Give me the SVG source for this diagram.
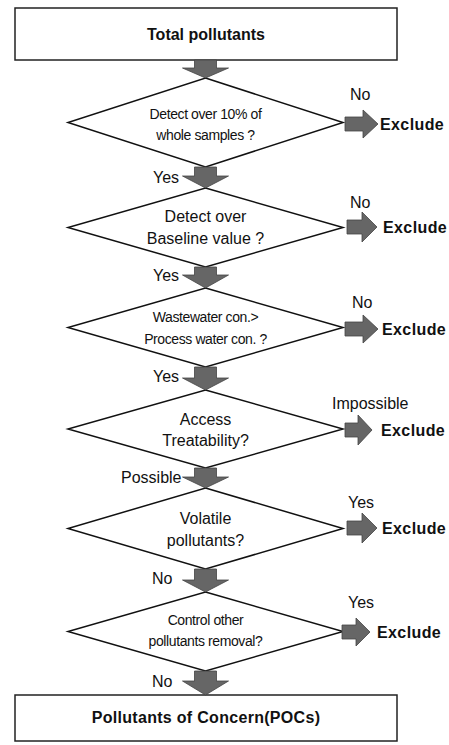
<svg xmlns="http://www.w3.org/2000/svg" width="449" height="745" viewBox="0 0 449 745">
<style>
.box{fill:#fff;stroke:#222;stroke-width:1.5}
.dia{fill:#fff;stroke:#111;stroke-width:1.5}
.arr{fill:#666;stroke:#444;stroke-width:0.8}
text{font-family:"Liberation Sans",Arial,sans-serif;fill:#111}
.t{font-size:16px;text-anchor:middle}
.c{font-size:14px;text-anchor:middle;letter-spacing:-0.4px}
.b{font-size:16px;font-weight:bold;text-anchor:middle}
.l{font-size:16px}
.x{font-size:16px;font-weight:bold;letter-spacing:0.4px}
</style>
<rect width="449" height="745" fill="#fff"/>
<g id="start"><rect class="box" x="15" y="8" width="382" height="52"/><text class="b" x="206" y="40">Total pollutants</text></g>
<g id="d1"><polygon class="dia" points="205.5,78 343,122.5 205.5,167 68,122.5"/><text class="c" x="205.5" y="119">Detect over 10% of</text><text class="c" x="205.5" y="140">whole samples ?</text></g>
<g id="d2"><polygon class="dia" points="205.5,188 343,227.5 205.5,267 68,227.5"/><text class="t" x="205.5" y="222">Detect over</text><text class="t" x="205.5" y="244">Baseline value ?</text></g>
<g id="d3"><polygon class="dia" points="205.5,288 343,327.5 205.5,367 68,327.5"/><text class="c" x="205.5" y="322">Wastewater con.&gt;</text><text class="c" x="205.5" y="344">Process water con. ?</text></g>
<g id="d4"><polygon class="dia" points="205.5,390 343,429 205.5,468 68,429"/><text class="t" x="205.5" y="425">Access</text><text class="t" x="205.5" y="446">Treatability?</text></g>
<g id="d5"><polygon class="dia" points="205.5,488 343,528.5 205.5,569 68,528.5"/><text class="t" x="205.5" y="524">Volatile</text><text class="t" x="205.5" y="546">pollutants?</text></g>
<g id="d6"><polygon class="dia" points="205.5,592 343,631.5 205.5,671 68,631.5"/><text class="c" x="205.5" y="625">Control other</text><text class="c" x="205.5" y="646">pollutants removal?</text></g>
<g id="end"><rect class="box" x="15" y="695" width="382" height="46"/><text class="b" x="206" y="723" style="letter-spacing:0.3px">Pollutants of Concern(POCs)</text></g>
<g id="connectors">
<polygon class="arr" points="194.5,60 216.5,60 216.5,68 228.5,68 205.5,78 182.5,68 194.5,68"/>
<polygon class="arr" points="194.5,167 216.5,167 216.5,176 228.5,176 205.5,188 182.5,176 194.5,176"/>
<polygon class="arr" points="194.5,267 216.5,267 216.5,275 228.5,275 205.5,288 182.5,275 194.5,275"/>
<polygon class="arr" points="194.5,367 216.5,367 216.5,378 228.5,378 205.5,390 182.5,378 194.5,378"/>
<polygon class="arr" points="194.5,468 216.5,468 216.5,477 228.5,477 205.5,488 182.5,477 194.5,477"/>
<polygon class="arr" points="194.5,569 216.5,569 216.5,580 228.5,580 205.5,592 182.5,580 194.5,580"/>
<polygon class="arr" points="194.5,671 216.5,671 216.5,681 228.5,681 205.5,695 182.5,681 194.5,681"/>
<polygon class="arr" points="345,117 363,117 363,110 378,124 363,138 363,131 345,131"/>
<polygon class="arr" points="347,220 362,220 362,212 377,227 362,242 362,234 347,234"/>
<polygon class="arr" points="345,322 363,322 363,315 378,329 363,343 363,336 345,336"/>
<polygon class="arr" points="345,423 358,423 358,415 372,430 358,445 358,437 345,437"/>
<polygon class="arr" points="347,521 362,521 362,513 377,528 362,543 362,535 347,535"/>
<polygon class="arr" points="342,625 356,625 356,618 370,632 356,646 356,639 342,639"/>
<text class="l" x="350" y="100">No</text>
<text class="x" x="380" y="130">Exclude</text>
<text class="l" x="153" y="183">Yes</text>
<text class="l" x="350" y="208">No</text>
<text class="x" x="383" y="233">Exclude</text>
<text class="l" x="153" y="281">Yes</text>
<text class="l" x="352" y="308">No</text>
<text class="x" x="382" y="335">Exclude</text>
<text class="l" x="153" y="382">Yes</text>
<text class="l" x="332" y="409">Impossible</text>
<text class="x" x="381" y="436">Exclude</text>
<text class="l" x="121" y="483">Possible</text>
<text class="l" x="348" y="508">Yes</text>
<text class="x" x="382" y="534">Exclude</text>
<text class="l" x="152" y="584">No</text>
<text class="l" x="348" y="608">Yes</text>
<text class="x" x="377" y="638">Exclude</text>
<text class="l" x="152" y="687">No</text>
</g>
</svg>
